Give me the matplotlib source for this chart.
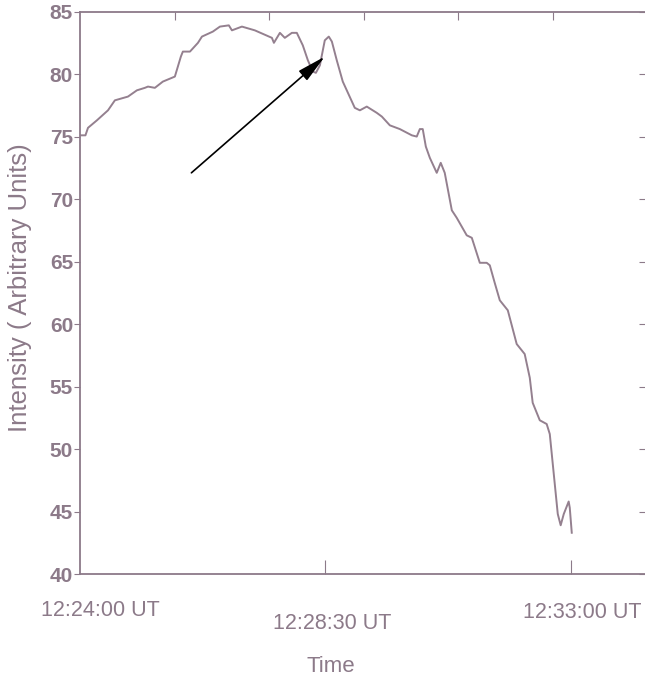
import matplotlib
matplotlib.use("Agg")
import matplotlib.pyplot as plt
import matplotlib.transforms as mtransforms

# seconds after 12:24:00 UT and intensity
time_s = [0, 3, 4.4, 9.3, 15.4, 19.2, 26.4, 31.3, 35.7, 37.4, 41.2, 45.6, 52.2,
          55.5, 56.6, 60.5, 64.9, 67.1, 73.1, 77.0, 81.9, 83.6, 89.1, 96.2,
          105.6, 106.7, 110.0, 112.7, 116.6, 119.3, 122.6, 125.4, 128.1, 129.8,
          132.0, 134.7, 136.9, 138.6, 141.3, 144.6, 146.8, 151.2, 154.0, 157.8,
          163.3, 166.1, 170.5, 176.0, 182.6, 185.3, 187.0, 188.6, 190.3, 192.5,
          196.3, 198.5, 200.7, 204.6, 207.3, 212.8, 215.6, 220.0, 223.8, 225.5,
          228.2, 231.0, 235.4, 240.3, 244.7, 247.5, 249.1, 253.0, 256.8, 258.5,
          262.9, 264.5, 266.2, 268.9, 269.5, 270.6]
intensity = [75.1, 75.1, 75.7, 76.3, 77.1, 77.9, 78.2, 78.7, 78.9, 79.0, 78.9,
             79.4, 79.8, 81.4, 81.8, 81.8, 82.5, 83.0, 83.4, 83.8, 83.9, 83.5,
             83.8, 83.5, 82.9, 82.5, 83.3, 82.9, 83.3, 83.3, 82.3, 81.1, 80.2,
             80.1, 80.7, 82.7, 83.0, 82.6, 81.1, 79.4, 78.7, 77.3, 77.1, 77.4,
             76.9, 76.6, 75.9, 75.6, 75.1, 75.0, 75.6, 75.6, 74.2, 73.3, 72.1,
             72.9, 72.1, 69.1, 68.5, 67.1, 66.9, 64.9, 64.9, 64.7, 63.3, 61.9,
             61.1, 58.4, 57.6, 55.7, 53.7, 52.3, 52.0, 51.2, 44.8, 43.9, 44.8,
             45.8, 45.3, 43.3]

xtick_pos = [0, 135, 270]
xtick_labels = ["12:24:00 UT", "12:28:30 UT", "12:33:00 UT"]
top_ticks = [52, 104, 156, 208, 260]
yticks = [40, 45, 50, 55, 60, 65, 70, 75, 80, 85]

arrow_tail = (61.3, 72.1)
arrow_tip = (134.7, 81.4)

ink = "#8c7a89"
font = ["Liberation Sans", "DejaVu Sans"]

fig = plt.figure(figsize=(6.45, 6.82), dpi=100)
ax = fig.add_axes([80 / 645, 1 - 574 / 682, 567 / 645, (574 - 11.6) / 682])

ax.plot(time_s, intensity, color="#94808f", lw=1.4)

ax.set_xlim(0, 312)
ax.set_ylim(40, 85)

for side in ["left", "top", "bottom"]:
    ax.spines[side].set_color(ink)
    ax.spines[side].set_linewidth(1.3)
ax.spines["right"].set_visible(False)

ax.set_yticks(yticks)
ax.set_yticklabels([str(v) for v in yticks], family=font, fontsize=15,
                   weight="bold", color=ink)
ax.tick_params(axis="y", which="both", left=True, right=True, direction="out",
               length=4, color=ink, pad=1)
# right-hand ticks point inward from the (off-page) right frame
for t in ax.yaxis.get_major_ticks():
    t.tick2line.set_marker(matplotlib.lines.TICKLEFT)
    t.tick2line.set_markersize(6)

ax.set_xticks(xtick_pos)
ax.set_xticklabels(xtick_labels, family=font, fontsize=15.5, color=ink)
ax.tick_params(axis="x", direction="in", length=10, color=ink, pad=19)
ax.xaxis.get_major_ticks()[0].tick1line.set_visible(False)

# label nudges as in the original page layout
shifts = [(20, 0), (7, -13), (12, -2)]
for lab, (dx, dy) in zip(ax.get_xticklabels(), shifts):
    lab.set_transform(lab.get_transform() +
                      mtransforms.ScaledTranslation(dx / 100, dy / 100,
                                                    fig.dpi_scale_trans))

top = ax.secondary_xaxis("top")
top.set_xticks(top_ticks)
top.set_xticklabels([])
top.tick_params(direction="in", length=6, color=ink)
top.spines["top"].set_visible(False)

ax.set_ylabel("Intensity ( Arbitrary Units)", family=font, fontsize=18.5,
              color=ink)
ax.yaxis.set_label_coords(-0.085, 0.5085)
ax.set_xlabel("Time", family=font, fontsize=16, color=ink)
ax.xaxis.set_label_coords(0.4427, -0.145)

ax.annotate("", xy=arrow_tip, xytext=arrow_tail,
            arrowprops=dict(arrowstyle="-|>,head_length=1.6,head_width=0.35",
                            color="black", lw=1.2, mutation_scale=11,
                            shrinkA=0, shrinkB=0))

fig.savefig("out.png", dpi=100)
